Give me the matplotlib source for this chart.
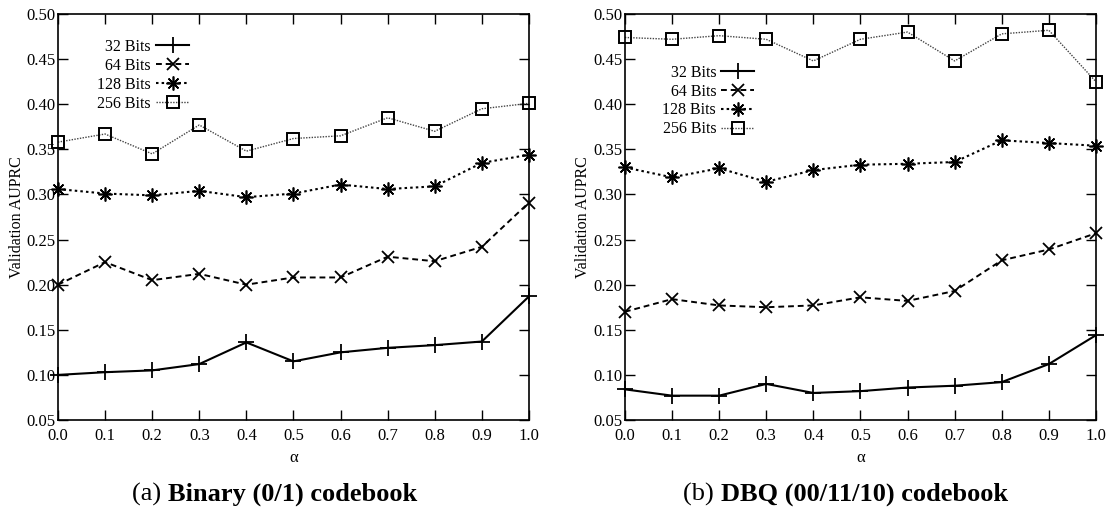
import numpy as np
import matplotlib
matplotlib.use("Agg")
import matplotlib.pyplot as plt

plt.rcParams['font.family'] = ['Liberation Serif', 'DejaVu Serif']

# data
alpha = [0.0, 0.1, 0.2, 0.3, 0.4, 0.5, 0.6, 0.7, 0.8, 0.9, 1.0]
labels = ["32 Bits", "64 Bits", "128 Bits", "256 Bits"]

binary_32 = [0.100, 0.103, 0.105, 0.112, 0.136, 0.115, 0.125, 0.130, 0.133, 0.137, 0.187]
binary_64 = [0.200, 0.225, 0.205, 0.212, 0.200, 0.208, 0.208, 0.231, 0.226, 0.242, 0.291]
binary_128 = [0.306, 0.301, 0.299, 0.304, 0.297, 0.301, 0.311, 0.306, 0.309, 0.335, 0.344]
binary_256 = [0.358, 0.367, 0.345, 0.377, 0.348, 0.362, 0.365, 0.385, 0.370, 0.395, 0.401]

dbq_32 = [0.084, 0.077, 0.077, 0.090, 0.080, 0.082, 0.086, 0.088, 0.092, 0.112, 0.144]
dbq_64 = [0.170, 0.184, 0.177, 0.175, 0.177, 0.186, 0.182, 0.193, 0.227, 0.239, 0.257]
dbq_128 = [0.330, 0.319, 0.329, 0.314, 0.327, 0.333, 0.334, 0.336, 0.360, 0.357, 0.354]
dbq_256 = [0.474, 0.472, 0.476, 0.472, 0.448, 0.472, 0.480, 0.448, 0.478, 0.482, 0.425]

styles = [
    dict(ls='-', lw=1.5, color='black', marker='+', ms=11, mew=1.3),
    dict(ls=(0, (3, 2)), lw=1.4, color='black', marker='x', ms=9, mew=1.3),
    dict(ls=(0, (1.2, 1.5)), lw=1.5, color='black', marker=(8, 2, 0), ms=10, mew=1.2),
    dict(ls=(0, (1, 1)), lw=1.0, color='#444444', marker='s', ms=9, mew=1.4,
         mfc='none', mec='black'),
]

fig = plt.figure(figsize=(11.08, 5.08), dpi=100)
ax1 = fig.add_axes([0.0523, 0.1732, 0.4251, 0.7992])
ax2 = fig.add_axes([0.564, 0.1732, 0.4251, 0.7992])

panels = [
    (ax1, [binary_32, binary_64, binary_128, binary_256], (0.296, 0.958), "(a)", "Binary (0/1) codebook", 0.1515),
    (ax2, [dbq_32, dbq_64, dbq_128, dbq_256], (0.292, 0.895), "(b)", "DBQ (00/11/10) codebook", 0.6505),
]

for ax, series, leg_pos, cap_a, cap_b, cap_x in panels:
    for vals, lab, st in zip(series, labels, styles):
        ax.plot(alpha, vals, label=lab, clip_on=False, **st)
    ax.set_xlim(0.0, 1.0)
    ax.set_ylim(0.05, 0.50)
    ax.set_xticks(np.arange(0, 1.01, 0.1))
    ax.set_yticks(np.arange(0.05, 0.501, 0.05))
    ax.xaxis.set_major_formatter(matplotlib.ticker.FormatStrFormatter('%.1f'))
    ax.yaxis.set_major_formatter(matplotlib.ticker.FormatStrFormatter('%.2f'))
    ax.tick_params(direction='in', length=7, width=1, top=True, right=True,
                   labelsize=12)
    ax.tick_params(axis='x', pad=6)
    ax.tick_params(axis='y', pad=2)
    for sp in ax.spines.values():
        sp.set_linewidth(1.2)
    ax.set_xlabel("α", fontsize=12, labelpad=4)
    ax.set_ylabel("Validation AUPRC", fontsize=11.5, labelpad=1)
    leg = ax.legend(loc='upper right', bbox_to_anchor=leg_pos, frameon=False,
                    markerfirst=False, fontsize=11.5, handlelength=2.1,
                    labelspacing=0.18, borderpad=0, handletextpad=0.3)
    # subcaption
    fig.text(cap_x, 0.014, cap_a + " ", fontsize=19, ha='right', va='baseline')
    fig.text(cap_x, 0.014, cap_b, fontsize=19, fontweight='bold', ha='left', va='baseline')

fig.savefig("out.png", dpi=100)
